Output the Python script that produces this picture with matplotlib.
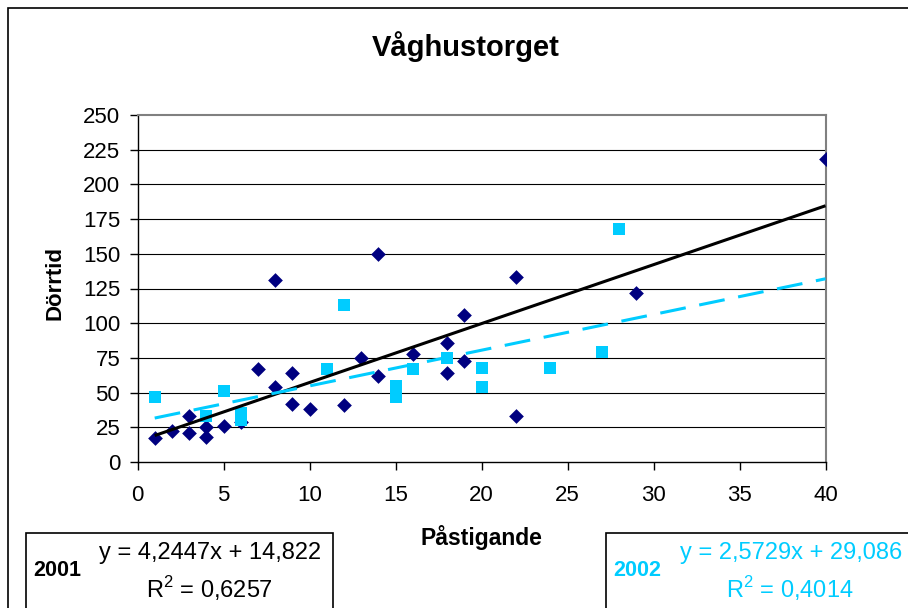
import numpy as np
import matplotlib
matplotlib.use("Agg")
import matplotlib.pyplot as plt
from matplotlib.patches import Rectangle

plt.rcParams['font.family'] = ['Liberation Sans', 'DejaVu Sans']
plt.rcParams['mathtext.fontset'] = 'custom'
plt.rcParams['mathtext.rm'] = 'Liberation Sans'

# 2001 (diamonds)
x_2001 = [1, 2, 3, 3, 4, 4, 5, 6, 7, 8, 8, 9, 9, 10, 12, 13, 14, 14, 16, 18, 18, 19, 19, 22, 22, 29, 40]
y_2001 = [17, 22, 33, 21, 25, 18, 26, 29, 67, 131, 54, 64, 42, 38, 41, 75, 150, 62, 78, 86, 64, 73, 106, 133, 33, 122, 218]

# 2002 (squares)
x_2002 = [1, 4, 5, 6, 6, 11, 12, 15, 15, 16, 18, 20, 20, 24, 27, 28]
y_2002 = [47, 33, 51, 35, 30, 67, 113, 55, 47, 67, 75, 68, 54, 68, 79, 168]

# trendline coefficients as shown in the chart
slope_2001, icept_2001, r2_2001 = 4.2447, 14.822, 0.6257
slope_2002, icept_2002, r2_2002 = 2.5729, 29.086, 0.4014

x_ticks = [0, 5, 10, 15, 20, 25, 30, 35, 40]
y_ticks = [0, 25, 50, 75, 100, 125, 150, 175, 200, 225, 250]

NAVY = "#000080"
CYAN = "#00CCFF"


def fmt(v, nd):
    return f"{v:.{nd}f}".replace(".", ",")


fig = plt.figure(figsize=(9.08, 6.08), dpi=100)

# outer chart frame (runs off the right and bottom edges)
fig.patches.append(Rectangle((8 / 908, -0.1), 1.1, 1 - 8 / 608 + 0.1,
                             transform=fig.transFigure, fill=False,
                             edgecolor="black", linewidth=1.2))

ax = fig.add_axes([137.5 / 908, 1 - 462 / 608, 688 / 908, 347 / 608])

ax.scatter(x_2001, y_2001, marker="D", s=7.5 ** 2, color=NAVY, linewidths=0, zorder=3)
ax.scatter(x_2002, y_2002, marker="s", s=8.0 ** 2, color=CYAN, linewidths=0, zorder=3)

xl = np.array([1, 40])
ax.plot(xl, slope_2001 * xl + icept_2001, color="black", lw=2.2, zorder=4,
        solid_capstyle="butt")
ax.plot(xl, slope_2002 * xl + icept_2002, color=CYAN, lw=2.2, zorder=4,
        dashes=(8.5, 4.5), dash_capstyle="butt")

ax.set_xlim(0, 40)
ax.set_ylim(0, 250)
ax.set_xticks(x_ticks)
ax.set_yticks(y_ticks)
ax.tick_params(direction="out", length=5.5, width=1, labelsize=16)
ax.tick_params(axis="y", pad=7)
ax.tick_params(axis="x", pad=11)
for y in y_ticks[1:-1]:
    ax.axhline(y, color="black", lw=0.8, zorder=1)

for s in ["left", "bottom"]:
    ax.spines[s].set_color("black")
    ax.spines[s].set_linewidth(1)
for s in ["top", "right"]:
    ax.spines[s].set_color("#808080")
    ax.spines[s].set_linewidth(1.5)

fig.text(466 / 908, 1 - 47 / 608, "Våghustorget", ha="center", va="center",
         fontsize=21, fontweight="bold")
fig.text(55 / 908, 1 - 283 / 608, "Dörrtid", ha="center", va="center",
         rotation=90, fontsize=16, fontweight="bold")
fig.text(481 / 908, 1 - 538 / 608, "Påstigande", ha="center", va="center",
         fontsize=16.5, fontweight="bold")

# equation boxes
fig.patches.append(Rectangle((26 / 908, -0.05), 307 / 908, 0.05 + 1 - 533 / 608,
                             transform=fig.transFigure, fill=False,
                             edgecolor="black", linewidth=1.2))
fig.patches.append(Rectangle((606 / 908, -0.05), 0.5, 0.05 + 1 - 533 / 608,
                             transform=fig.transFigure, fill=False,
                             edgecolor="black", linewidth=1.2))

fig.text(33 / 908, 1 - 571 / 608, "2001", ha="left", va="center",
         fontsize=15.5, fontweight="bold")
fig.text(210 / 908, 1 - 553 / 608,
         f"y = {fmt(slope_2001, 4)}x + {fmt(icept_2001, 3)}",
         ha="center", va="center", fontsize=17)
fig.text(209 / 908, 1 - 589 / 608, "R$^2$" + f" = {fmt(r2_2001, 4)}",
         ha="center", va="center", fontsize=17)

fig.text(613 / 908, 1 - 571 / 608, "2002", ha="left", va="center",
         fontsize=15.5, fontweight="bold", color=CYAN)
fig.text(791 / 908, 1 - 553 / 608,
         f"y = {fmt(slope_2002, 4)}x + {fmt(icept_2002, 3)}",
         ha="center", va="center", fontsize=17, color=CYAN)
fig.text(790 / 908, 1 - 589 / 608, "R$^2$" + f" = {fmt(r2_2002, 4)}",
         ha="center", va="center", fontsize=17, color=CYAN)

fig.savefig("out.png", dpi=100)
